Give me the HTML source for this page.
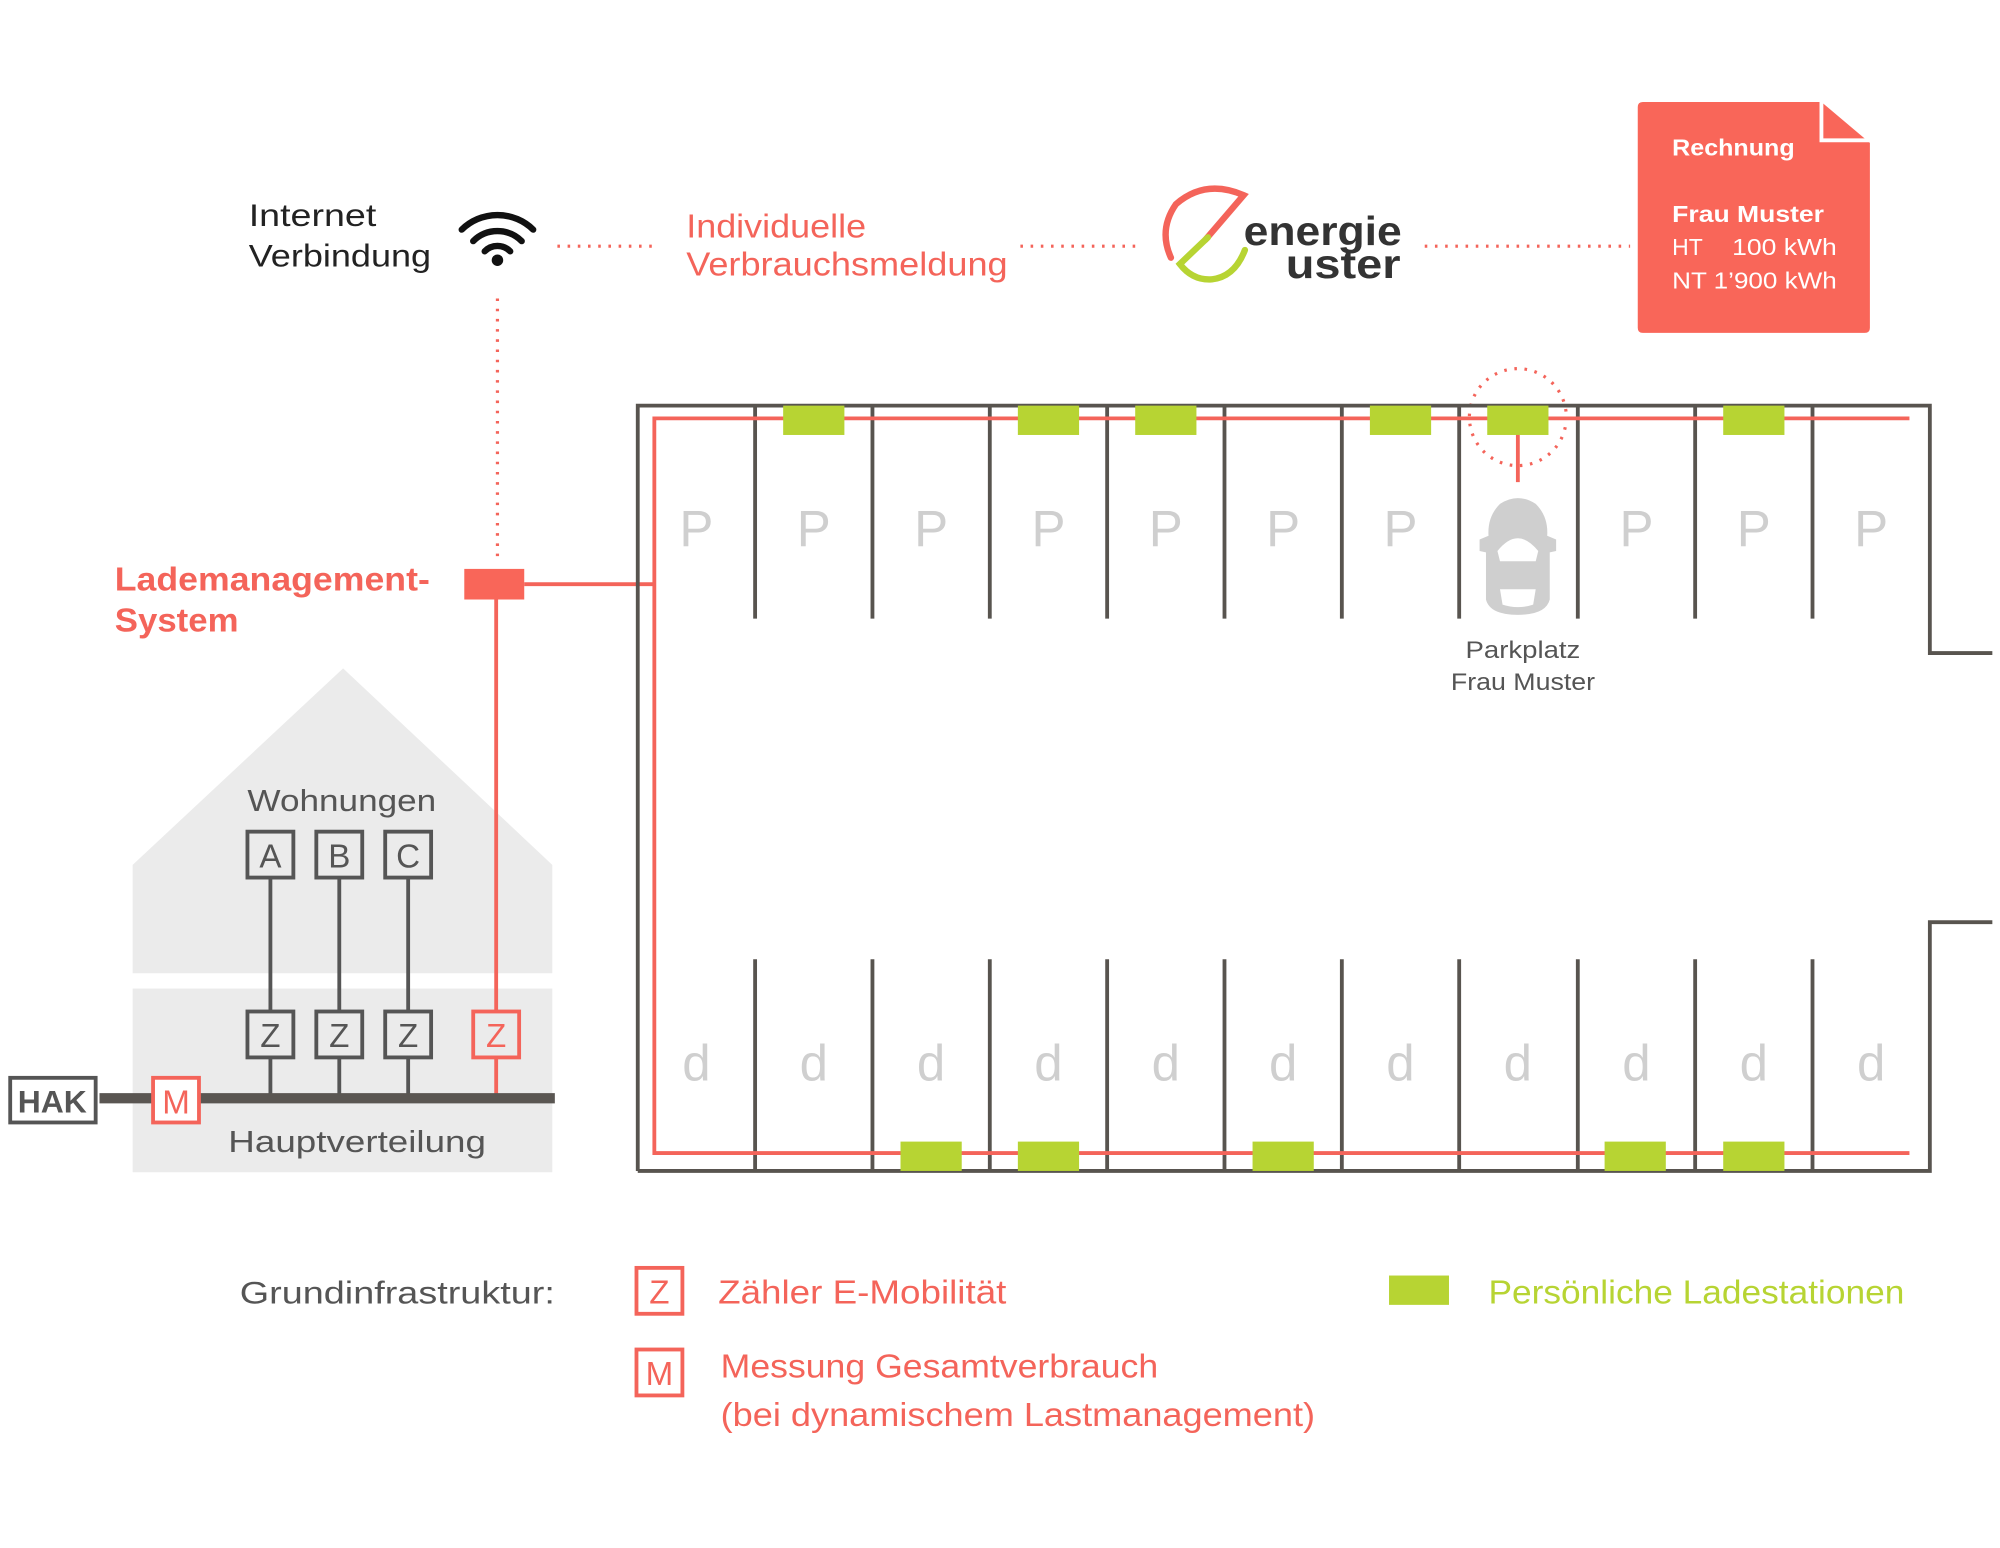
<!DOCTYPE html>
<html><head><meta charset="utf-8"><style>
html,body{margin:0;padding:0;background:#fff;}
svg{display:block;}
text{font-family:"Liberation Sans",sans-serif;}
</style></head><body>
<svg width="2000" height="1548" viewBox="0 0 1568 1213.6" xmlns="http://www.w3.org/2000/svg">
<rect width="1568" height="1214" fill="#fff"/>
<text x="195" y="177" font-size="25" fill="#222" textLength="100" lengthAdjust="spacingAndGlyphs">Internet</text>
<text x="195" y="209" font-size="25" fill="#222" textLength="143" lengthAdjust="spacingAndGlyphs">Verbindung</text>
<g fill="none" stroke="#111" stroke-width="5" stroke-linecap="round">
<path d="M362 180 A40 40 0 0 1 418 180"/>
<path d="M371 189 A27 27 0 0 1 409 189"/>
<path d="M380 197 A14 14 0 0 1 400 197"/>
</g>
<circle cx="390" cy="204" r="4.5" fill="#111"/>
<g stroke="#f4645a" stroke-width="2.5" stroke-dasharray="2 6" fill="none">
<line x1="437" y1="193" x2="515" y2="193"/>
<line x1="800" y1="193" x2="890" y2="193"/>
<line x1="1117" y1="193" x2="1278" y2="193"/>
<line x1="390" y1="234" x2="390" y2="440"/>
<circle cx="1190" cy="327" r="38"/>
</g>
<text x="538" y="186" font-size="26" fill="#f4645a" textLength="141" lengthAdjust="spacingAndGlyphs">Individuelle</text>
<text x="538" y="216" font-size="26" fill="#f4645a" textLength="252" lengthAdjust="spacingAndGlyphs">Verbrauchsmeldung</text>
<path d="M945 188 L975 153 Q945 140 922 160 Q908 180 918 202" fill="none" stroke="#f4645a" stroke-width="5" stroke-linecap="round"/>
<path d="M947 186 L925 207 Q935 220 950 219 Q968 217 976 196" fill="none" stroke="#b7d433" stroke-width="5" stroke-linecap="round"/>
<text x="975" y="192" font-size="32" fill="#333" textLength="124" lengthAdjust="spacingAndGlyphs" font-weight="bold">energie</text>
<text x="1008" y="218" font-size="32" fill="#333" textLength="90" lengthAdjust="spacingAndGlyphs" font-weight="bold">uster</text>
<path d="M1288 80 L1428 80 L1466 112 L1466 257 Q1466 261 1462 261 L1288 261 Q1284 261 1284 257 L1284 84 Q1284 80 1288 80 Z" fill="#f96659"/>
<path d="M1428 80 L1428 110 L1466 110" fill="none" stroke="#fff" stroke-width="3"/>
<g fill="#fff" font-size="18">
<text x="1311" y="122" font-weight="bold" textLength="96" lengthAdjust="spacingAndGlyphs">Rechnung</text>
<text x="1311" y="174" font-weight="bold" textLength="119" lengthAdjust="spacingAndGlyphs">Frau Muster</text>
<text x="1311" y="200">HT</text><text x="1358" y="200" textLength="82" lengthAdjust="spacingAndGlyphs">100 kWh</text>
<text x="1311" y="226" textLength="129" lengthAdjust="spacingAndGlyphs">NT 1’900 kWh</text>
</g>
<text x="90" y="463" font-size="26" font-weight="bold" fill="#f4645a" textLength="247" lengthAdjust="spacingAndGlyphs">Lademanagement-</text>
<text x="90" y="495" font-size="26" font-weight="bold" fill="#f4645a" textLength="97" lengthAdjust="spacingAndGlyphs">System</text>
<polygon points="104,678 269,524 433,678 433,763 104,763" fill="#ebebeb"/>
<rect x="104" y="775" width="329" height="144" fill="#ebebeb"/>
<text x="268" y="636" font-size="24" fill="#555" text-anchor="middle" textLength="148" lengthAdjust="spacingAndGlyphs">Wohnungen</text>
<g stroke="#555" stroke-width="3">
<line x1="212" y1="688" x2="212" y2="861"/>
<line x1="266" y1="688" x2="266" y2="861"/>
<line x1="320" y1="688" x2="320" y2="861"/>
</g>
<line x1="389" y1="470" x2="389" y2="861" stroke="#f4645a" stroke-width="3"/>
<line x1="411" y1="458" x2="513" y2="458" stroke="#f4645a" stroke-width="3"/>
<rect x="364" y="446" width="47" height="24" fill="#f96659"/>
<line x1="78" y1="861" x2="435" y2="861" stroke="#5a5652" stroke-width="8"/>
<g stroke="#555" stroke-width="3">
<rect x="194" y="652" width="36" height="36" fill="#ebebeb"/>
<rect x="248" y="652" width="36" height="36" fill="#ebebeb"/>
<rect x="302" y="652" width="36" height="36" fill="#ebebeb"/>
<rect x="194" y="793" width="36" height="36" fill="#ebebeb"/>
<rect x="248" y="793" width="36" height="36" fill="#ebebeb"/>
<rect x="302" y="793" width="36" height="36" fill="#ebebeb"/>
<rect x="8" y="845" width="67" height="35" fill="#fff"/>
</g>
<g font-size="26" text-anchor="middle" fill="#555">
<text x="212" y="680">A</text><text x="266" y="680">B</text><text x="320" y="680">C</text>
<text x="212" y="821">Z</text><text x="266" y="821">Z</text><text x="320" y="821">Z</text>
<text x="41" y="872" font-weight="bold" font-size="25">HAK</text>
</g>
<rect x="371" y="793" width="36" height="36" fill="#ebebeb" stroke="#f4645a" stroke-width="3"/>
<text x="389" y="821" font-size="26" text-anchor="middle" fill="#f4645a">Z</text>
<rect x="120" y="845" width="36" height="35" fill="#fff" stroke="#f4645a" stroke-width="3"/>
<text x="138" y="873" font-size="26" text-anchor="middle" fill="#f4645a">M</text>
<text x="280" y="903" font-size="24" fill="#555" text-anchor="middle" textLength="202" lengthAdjust="spacingAndGlyphs">Hauptverteilung</text>
<g fill="none" stroke="#58544f" stroke-width="3">
<path d="M500 918 L500 318 L1513 318 L1513 512 L1562 512"/>
<path d="M500 918 L1513 918 L1513 723 L1562 723"/>
<line x1="592" y1="318" x2="592" y2="485"/><line x1="684" y1="318" x2="684" y2="485"/>
<line x1="776" y1="318" x2="776" y2="485"/><line x1="868" y1="318" x2="868" y2="485"/>
<line x1="960" y1="318" x2="960" y2="485"/><line x1="1052" y1="318" x2="1052" y2="485"/>
<line x1="1144" y1="318" x2="1144" y2="485"/><line x1="1237" y1="318" x2="1237" y2="485"/>
<line x1="1329" y1="318" x2="1329" y2="485"/><line x1="1421" y1="318" x2="1421" y2="485"/>
<line x1="592" y1="752" x2="592" y2="918"/><line x1="684" y1="752" x2="684" y2="918"/>
<line x1="776" y1="752" x2="776" y2="918"/><line x1="868" y1="752" x2="868" y2="918"/>
<line x1="960" y1="752" x2="960" y2="918"/><line x1="1052" y1="752" x2="1052" y2="918"/>
<line x1="1144" y1="752" x2="1144" y2="918"/><line x1="1237" y1="752" x2="1237" y2="918"/>
<line x1="1329" y1="752" x2="1329" y2="918"/><line x1="1421" y1="752" x2="1421" y2="918"/>
</g>
<path d="M1497 328 L513 328 L513 904 L1497 904" fill="none" stroke="#f4645a" stroke-width="3"/>
<line x1="1190" y1="340" x2="1190" y2="378" stroke="#f4645a" stroke-width="3"/>
<g fill="#b7d433">
<rect x="614" y="318" width="48" height="23"/><rect x="798" y="318" width="48" height="23"/>
<rect x="890" y="318" width="48" height="23"/><rect x="1074" y="318" width="48" height="23"/>
<rect x="1166" y="318" width="48" height="23"/><rect x="1351" y="318" width="48" height="23"/>
<rect x="706" y="895" width="48" height="23"/><rect x="798" y="895" width="48" height="23"/>
<rect x="982" y="895" width="48" height="23"/><rect x="1258" y="895" width="48" height="23"/>
<rect x="1351" y="895" width="48" height="23"/>
</g>
<g font-size="40" fill="#cfcfcf" text-anchor="middle">
<text x="546" y="428">P</text><text x="638" y="428">P</text><text x="730" y="428">P</text>
<text x="822" y="428">P</text><text x="914" y="428">P</text><text x="1006" y="428">P</text>
<text x="1098" y="428">P</text><text x="1283" y="428">P</text><text x="1375" y="428">P</text>
<text x="1467" y="428">P</text>
</g>
<g font-size="40" fill="#cfcfcf" text-anchor="middle">
<text x="546" y="847">d</text><text x="638" y="847">d</text><text x="730" y="847">d</text>
<text x="822" y="847">d</text><text x="914" y="847">d</text><text x="1006" y="847">d</text>
<text x="1098" y="847">d</text><text x="1190" y="847">d</text><text x="1283" y="847">d</text>
<text x="1375" y="847">d</text><text x="1467" y="847">d</text>
</g>
<path d="M1176 395 Q1190 386 1204 395 Q1214 405 1213 420 L1220 423 L1220 432 L1215 433 L1215 470 Q1212 482 1190 482 Q1168 482 1165 470 L1165 433 L1160 432 L1160 423 L1167 420 Q1166 405 1176 395 Z" fill="#cfcfcf"/>
<path d="M1174 432 Q1190 412 1206 432 L1204 440 L1176 440 Z" fill="#fff"/>
<path d="M1176 462 L1204 462 L1202 474 Q1190 478 1178 474 Z" fill="#fff"/>
<text x="1194" y="516" font-size="19" fill="#555" text-anchor="middle" textLength="90" lengthAdjust="spacingAndGlyphs">Parkplatz</text>
<text x="1194" y="541" font-size="19" fill="#555" text-anchor="middle" textLength="113" lengthAdjust="spacingAndGlyphs">Frau Muster</text>
<text x="188" y="1022" font-size="25" fill="#555" textLength="247" lengthAdjust="spacingAndGlyphs">Grundinfrastruktur:</text>
<rect x="499" y="994" width="36" height="36" fill="#fff" stroke="#f4645a" stroke-width="3"/>
<text x="517" y="1022" font-size="26" fill="#f4645a" text-anchor="middle">Z</text>
<text x="563" y="1022" font-size="26" fill="#f4645a" textLength="226" lengthAdjust="spacingAndGlyphs">Zähler E-Mobilität</text>
<rect x="499" y="1058" width="36" height="36" fill="#fff" stroke="#f4645a" stroke-width="3"/>
<text x="517" y="1086" font-size="26" fill="#f4645a" text-anchor="middle">M</text>
<text x="565" y="1080" font-size="26" fill="#f4645a" textLength="343" lengthAdjust="spacingAndGlyphs">Messung Gesamtverbrauch</text>
<text x="565" y="1118" font-size="26" fill="#f4645a" textLength="466" lengthAdjust="spacingAndGlyphs">(bei dynamischem Lastmanagement)</text>
<rect x="1089" y="1000" width="47" height="23" fill="#b7d433"/>
<text x="1167" y="1022" font-size="26" fill="#b7d433" textLength="326" lengthAdjust="spacingAndGlyphs">Persönliche Ladestationen</text>
</svg>
</body></html>
